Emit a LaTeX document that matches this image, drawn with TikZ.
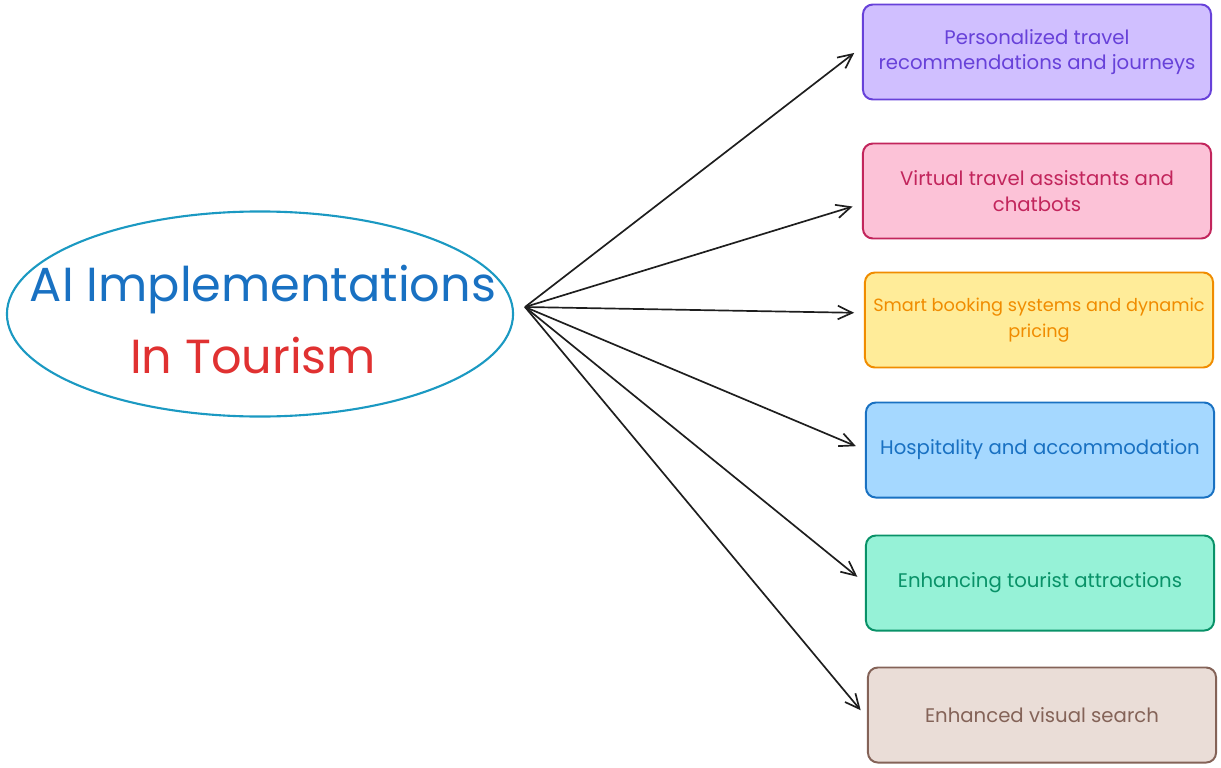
\documentclass[tikz,border=0pt]{standalone}
\usepackage{fontspec}
\setmainfont{Poppins}
\usetikzlibrary{arrows.meta,shapes.geometric}
\definecolor{SpokeInk}{HTML}{1E1E1E}
\definecolor{RingInk}{HTML}{1B99C2}
\definecolor{TitleBlue}{HTML}{1971C2}
\definecolor{TitleRed}{HTML}{E03131}
\definecolor{VioletInk}{HTML}{6741D9}
\definecolor{VioletFill}{HTML}{D0BFFF}
\definecolor{PinkInk}{HTML}{C2255C}
\definecolor{PinkFill}{HTML}{FCC2D7}
\definecolor{AmberInk}{HTML}{F08C00}
\definecolor{AmberFill}{HTML}{FFEC99}
\definecolor{SkyInk}{HTML}{1971C2}
\definecolor{SkyFill}{HTML}{A5D8FF}
\definecolor{MintInk}{HTML}{099268}
\definecolor{MintFill}{HTML}{96F2D7}
\definecolor{ClayInk}{HTML}{846358}
\definecolor{ClayFill}{HTML}{EADDD7}
\tikzset{
  idea/.style={ellipse, draw=RingInk, line width=1.5pt, minimum width=12.65cm, minimum height=5.125cm, inner sep=0pt},
  headline/.style={font=\fontsize{34}{38}\selectfont, inner sep=0pt},
  topic/.style={rounded corners=7pt, line width=1.4pt, minimum width=8.7cm, minimum height=2.375cm, align=center, inner sep=2pt},
  spoke/.style={-{Straight Barb[length=3.6mm,width=3.4mm]}, line width=1.2pt, draw=SpokeInk, shorten >=7pt},
}
\begin{document}
\begin{tikzpicture}[x=0.025cm, y=-0.025cm, font=\fontsize{14}{18}\selectfont]
  \useasboundingbox (0,0) rectangle (1221,768);
  \node[idea] (ring) at (260,314) {};
  \node[headline, text=TitleBlue] (title) at (263,290) {AI Implementations};
  \node[headline, text=TitleRed] (subtitle) at (253,356) {In Tourism};
  \coordinate (fork) at (525,307);
  \node[topic, draw=VioletInk, fill=VioletFill, text=VioletInk] (recs) at (1037,52) {Personalized travel\\recommendations and journeys};
  \node[topic, draw=PinkInk, fill=PinkFill, text=PinkInk] (bots) at (1037,191) {Virtual travel assistants and\\chatbots};
  \node[topic, draw=AmberInk, fill=AmberFill, text=AmberInk, font=\fontsize{12.6}{18}\selectfont] (booking) at (1039,320) {Smart booking systems and dynamic\\pricing};
  \node[topic, draw=SkyInk, fill=SkyFill, text=SkyInk] (hotels) at (1040,450) {Hospitality and accommodation};
  \node[topic, draw=MintInk, fill=MintFill, text=MintInk] (sights) at (1040,583) {Enhancing tourist attractions};
  \node[topic, draw=ClayInk, fill=ClayFill, text=ClayInk] (search) at (1042,715) {Enhanced visual search};
  \foreach \n/\dy in {recs/3.6, bots/-9, booking/5, hotels/0, sights/0, search/-2}
    \draw[spoke] (fork) -- ([yshift=\dy pt]\n.west);
\end{tikzpicture}
\end{document}
